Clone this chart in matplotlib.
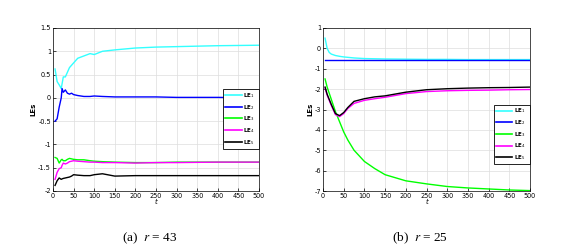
import numpy as np
import matplotlib.pyplot as plt

# r = 43
t_a = [5, 10, 15, 20, 22, 25, 30, 35, 40, 45, 50, 60, 75, 90, 100, 120, 150, 200, 250, 300, 400, 500]
le1_a = [0.62, 0.35, 0.28, 0.2, 0.3, 0.45, 0.45, 0.55, 0.65, 0.7, 0.75, 0.85, 0.9, 0.95, 0.93, 1.0, 1.03, 1.07, 1.09, 1.1, 1.12, 1.13]
le2_a = [-0.5, -0.45, -0.2, 0.0, 0.2, 0.12, 0.17, 0.1, 0.08, 0.1, 0.07, 0.05, 0.03, 0.03, 0.04, 0.03, 0.02, 0.02, 0.02, 0.01, 0.01, 0.0]
le3_a = [-1.28, -1.3, -1.4, -1.33, -1.32, -1.35, -1.35, -1.32, -1.3, -1.31, -1.32, -1.33, -1.33, -1.35, -1.36, -1.37, -1.38, -1.39, -1.39, -1.38, -1.38, -1.38]
le4_a = [-1.75, -1.6, -1.52, -1.5, -1.45, -1.4, -1.42, -1.4, -1.37, -1.36, -1.35, -1.36, -1.37, -1.38, -1.38, -1.39, -1.39, -1.4, -1.39, -1.39, -1.38, -1.38]
le5_a = [-1.88, -1.78, -1.72, -1.75, -1.74, -1.73, -1.72, -1.71, -1.7, -1.68, -1.65, -1.66, -1.67, -1.67, -1.65, -1.63, -1.68, -1.67, -1.67, -1.67, -1.67, -1.67]

# r = 25
t_b = [5, 10, 15, 20, 30, 40, 50, 60, 75, 100, 125, 150, 200, 250, 300, 350, 400, 450, 500]
le1_b = [0.5, 0.0, -0.2, -0.28, -0.35, -0.39, -0.42, -0.44, -0.47, -0.5, -0.51, -0.52, -0.53, -0.54, -0.54, -0.55, -0.55, -0.55, -0.55]
le2_b = [-0.55] * len(t_b)
le3_b = [-1.5, -1.9, -2.2, -2.5, -3.1, -3.6, -4.1, -4.5, -5.0, -5.55, -5.9, -6.2, -6.5, -6.65, -6.78, -6.85, -6.9, -6.95, -6.98]
le4_b = [-1.95, -2.3, -2.55, -2.8, -3.25, -3.35, -3.2, -2.95, -2.7, -2.55, -2.47, -2.4, -2.22, -2.12, -2.08, -2.06, -2.05, -2.03, -2.02]
le5_b = [-1.9, -2.25, -2.5, -2.75, -3.2, -3.3, -3.15, -2.9, -2.6, -2.47, -2.38, -2.33, -2.15, -2.03, -1.98, -1.95, -1.93, -1.92, -1.9]

labels = ['LE$_1$', 'LE$_2$', 'LE$_3$', 'LE$_4$', 'LE$_5$']
colors = ['#33ffff', '#0000ff', '#00ff00', '#ff00ff', '#000000']

plt.rcParams['font.family'] = 'DejaVu Sans'
fig = plt.figure(figsize=(5.69, 2.46), dpi=100)


def draw(ax, t, series, yticks, ylim, legend_box, caption):
    for y, c, lab in zip(series, colors, labels):
        ax.plot(t, y, color=c, lw=1.0, label=lab)
    ax.set_xlim(0, 500)
    ax.set_ylim(*ylim)
    ax.set_xticks(np.arange(0, 501, 50))
    ax.set_yticks(yticks)
    ax.set_yticklabels([f'{v:g}' for v in yticks])
    ax.grid(True, color='#dddddd', lw=0.5)
    ax.tick_params(labelsize=4.7, length=2, width=0.5, direction='in', pad=1.5)
    for s in ax.spines.values():
        s.set_linewidth(0.5)
    ax.set_xlabel('t', fontsize=5, style='italic', labelpad=0)
    ax.set_ylabel('LEs', fontsize=5, fontweight='bold', labelpad=1)
    leg = ax.legend(loc='lower left', bbox_to_anchor=legend_box, mode='expand',
                    fontsize=4.0, frameon=True, fancybox=False, framealpha=1,
                    edgecolor='black', handlelength=3.0, borderpad=0.35,
                    labelspacing=0.5, handletextpad=0.3, borderaxespad=0)
    leg.get_frame().set_linewidth(0.6)
    for txt in leg.get_texts():
        txt.set_fontweight('bold')
    for h in leg.get_lines():
        h.set_linewidth(1.2)
    ax.text(0.47, -0.29, caption, transform=ax.transAxes, ha='center',
            va='center', fontsize=9.5, family='Liberation Serif',
            math_fontfamily='stix')


ax1 = fig.add_axes([53 / 569, 1 - 191 / 246, 206 / 569, 163 / 246])
draw(ax1, t_a, [le1_a, le2_a, le3_a, le4_a, le5_a],
     np.arange(-2, 1.51, 0.5), (-2, 1.5), (0.825, 0.26, 0.175, 0.33),
     '(a)  $r$ = 43')

ax2 = fig.add_axes([323 / 569, 1 - 191 / 246, 207 / 569, 163 / 246])
draw(ax2, t_b, [le1_b, le2_b, le3_b, le4_b, le5_b],
     np.arange(-7, 1.1, 1), (-7, 1), (0.825, 0.165, 0.175, 0.33),
     '(b)  $r$ = 25')

fig.savefig('out.png', dpi=100)
